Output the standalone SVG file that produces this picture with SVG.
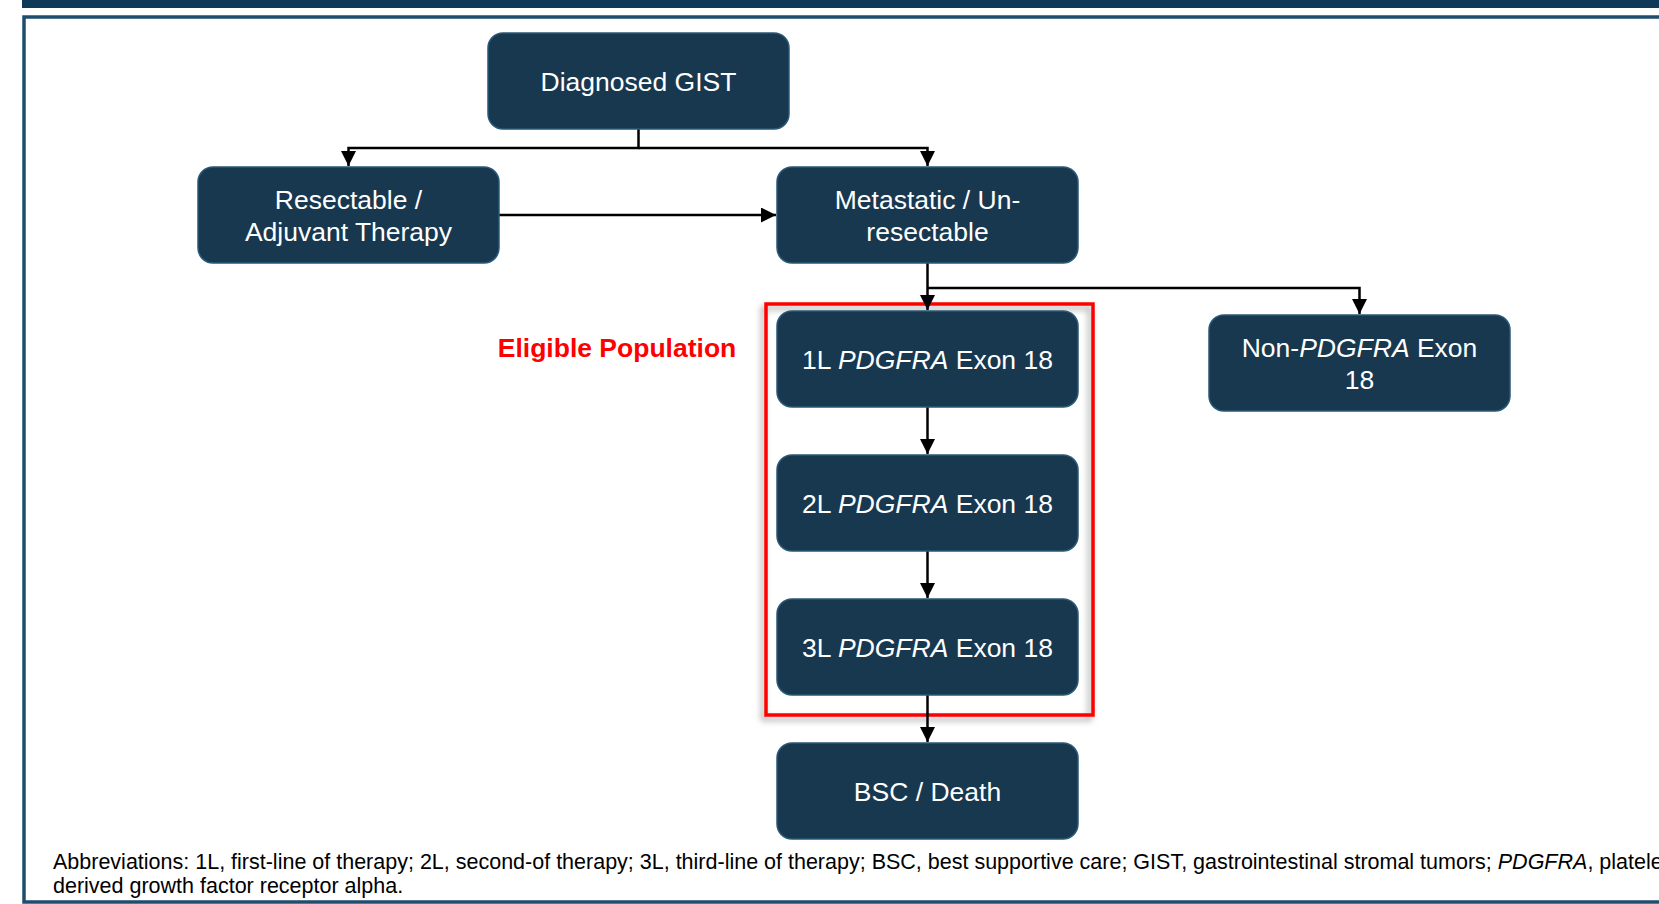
<svg xmlns="http://www.w3.org/2000/svg" width="1659" height="904" viewBox="0 0 1659 904">
<defs>
<style>
.node rect{fill:#17384f;stroke:#2a5877;stroke-width:1.5}
.node text{fill:#ffffff;font-family:"Liberation Sans",Arial,sans-serif;font-size:26.5px;text-anchor:middle}
.conn path{fill:none;stroke:#000;stroke-width:2.5}
.foot{font-family:"Liberation Sans",Arial,sans-serif;font-size:21.5px;fill:#000}
</style>
<marker id="ah" viewBox="0 0 10 10" refX="10" refY="5" markerWidth="6" markerHeight="6" orient="auto" markerUnits="strokeWidth">
<path d="M0,0 L10,5 L0,10 z" fill="#000"/>
</marker>
<filter id="sh" x="-10%" y="-10%" width="120%" height="120%">
<feDropShadow dx="-3" dy="4" stdDeviation="3" flood-color="#000" flood-opacity="0.35"/>
</filter>
</defs>
<rect x="0" y="0" width="1659" height="904" fill="#ffffff"/>
<rect x="22" y="0" width="1637" height="8" fill="#0e3959"/>
<path d="M1659,17 H24 V902 H1659" fill="none" stroke="#1f4d6e" stroke-width="3.5"/>

<rect id="eligible-box" x="766" y="304" width="327" height="411" fill="none" stroke="#ff0000" stroke-width="3.5" filter="url(#sh)"/>
<text x="617" y="357" font-family="'Liberation Sans',Arial,sans-serif" font-size="26.5" font-weight="bold" fill="#ff0000" text-anchor="middle">Eligible Population</text>

<g id="connectors" class="conn">
<path d="M638.5,129 V148 H348.5 V166" marker-end="url(#ah)"/>
<path d="M638.5,148 H927.5 V166" marker-end="url(#ah)"/>
<path d="M499,215 H776" marker-end="url(#ah)"/>
<path d="M927.5,263 V310" marker-end="url(#ah)"/>
<path d="M927.5,288 H1359.5 V314" marker-end="url(#ah)"/>
<path d="M927.5,407 V454" marker-end="url(#ah)"/>
<path d="M927.5,551 V598" marker-end="url(#ah)"/>
<path d="M927.5,695 V742" marker-end="url(#ah)"/>
</g>

<g id="diagnosed" class="node"><rect x="488" y="33" width="301" height="96" rx="15"/><text x="638.5" y="91">Diagnosed GIST</text></g>
<g id="resectable" class="node"><rect x="198" y="167" width="301" height="96" rx="15"/><text x="348.5" y="208.5">Resectable /</text><text x="348.5" y="240.5">Adjuvant Therapy</text></g>
<g id="metastatic" class="node"><rect x="777" y="167" width="301" height="96" rx="15"/><text x="927.5" y="208.5">Metastatic / Un-</text><text x="927.5" y="240.5">resectable</text></g>
<g id="non-pdgfra" class="node"><rect x="1209" y="315" width="301" height="96" rx="15"/><text x="1359.5" y="356.5">Non-<tspan font-style="italic">PDGFRA</tspan> Exon</text><text x="1359.5" y="388.5">18</text></g>
<g id="line1" class="node"><rect x="777" y="311" width="301" height="96" rx="15"/><text x="927.5" y="368.5">1L <tspan font-style="italic">PDGFRA</tspan> Exon 18</text></g>
<g id="line2" class="node"><rect x="777" y="455" width="301" height="96" rx="15"/><text x="927.5" y="512.5">2L <tspan font-style="italic">PDGFRA</tspan> Exon 18</text></g>
<g id="line3" class="node"><rect x="777" y="599" width="301" height="96" rx="15"/><text x="927.5" y="656.5">3L <tspan font-style="italic">PDGFRA</tspan> Exon 18</text></g>
<g id="bsc" class="node"><rect x="777" y="743" width="301" height="96" rx="15"/><text x="927.5" y="800.5">BSC / Death</text></g>

<text class="foot" x="53" y="869">Abbreviations: 1L, first-line of therapy; 2L, second-of therapy; 3L, third-line of therapy; BSC, best supportive care; GIST, gastrointestinal stromal tumors; <tspan font-style="italic">PDGFRA</tspan>, platelet-</text>
<text class="foot" x="53" y="893">derived growth factor receptor alpha.</text>
</svg>
